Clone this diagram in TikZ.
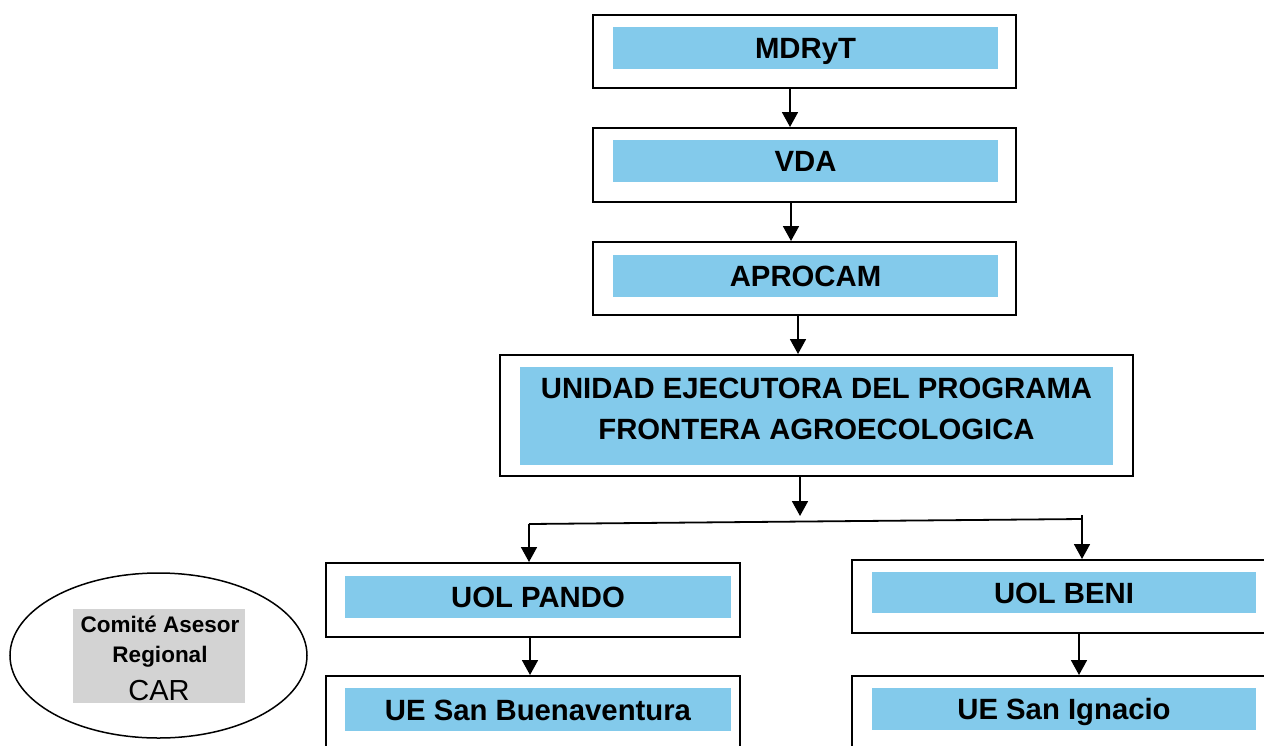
\documentclass[tikz,border=0pt]{standalone}
\usepackage{fontspec}
\setmainfont{Liberation Sans}
\usetikzlibrary{arrows.meta,shapes.geometric}
\definecolor{boxblue}{RGB}{131,202,235}
\definecolor{cargray}{RGB}{211,211,211}
\begin{document}
\begin{tikzpicture}[x=1pt,y=-1pt,
  outerbox/.style={draw=black,line width=2pt,fill=white,rectangle,inner sep=0pt},
  bluebox/.style={fill=boxblue,rectangle,inner sep=0pt,align=center,
    text height=21pt,text depth=0pt,
    font=\fontsize{29.3}{41}\selectfont\bfseries},
  bluefill/.style={fill=boxblue,rectangle,inner sep=0pt},
  bigtext/.style={inner sep=0pt,align=center,font=\fontsize{29.3}{41}\selectfont\bfseries},
  arr/.style={line width=1.8pt,-{Triangle[width=16pt,length=15pt]}},
  conn/.style={line width=1.8pt},
  cartext/.style={inner sep=0pt,font=\fontsize{22.5}{26}\selectfont\bfseries}]
\clip (0,0) rectangle (1264,745);
\fill[white] (0,0) rectangle (1264,745);
% top chain
\node[outerbox,minimum width=423pt,minimum height=73pt] (o1) at (804.5,51.5) {};
\node[bluebox,minimum width=385pt,minimum height=42pt] (mdryt) at (805.5,48) {MDRyT};
\node[outerbox,minimum width=423pt,minimum height=74pt] (o2) at (804.5,165) {};
\node[bluebox,minimum width=385pt,minimum height=42pt] (vda) at (805.5,161) {VDA};
\node[outerbox,minimum width=423pt,minimum height=73pt] (o3) at (804.5,278.5) {};
\node[bluebox,minimum width=385pt,minimum height=42pt] (aprocam) at (805.5,276) {APROCAM};
\node[outerbox,minimum width=633pt,minimum height=121pt] (o4) at (816.5,415.5) {};
\node[bluefill,minimum width=593pt,minimum height=98pt] (unidadbox) at (816.5,416) {};
\node[bigtext] (unidad) at (816.5,409) {UNIDAD EJECUTORA DEL PROGRAMA\\FRONTERA AGROECOLOGICA};
% second level
\node[outerbox,minimum width=414pt,minimum height=74pt] (o5) at (533,600) {};
\node[bluebox,minimum width=386pt,minimum height=42pt] (pando) at (538,597) {UOL PANDO};
\node[outerbox,minimum width=423pt,minimum height=73pt] (o6) at (1063.5,596.5) {};
\node[bluebox,minimum width=384pt,minimum height=41pt] (beni) at (1064,592.5) {UOL BENI};
% third level (cut off at bottom)
\node[outerbox,minimum width=414pt,minimum height=90pt] (o7) at (533,721) {};
\node[bluebox,minimum width=386pt,minimum height=43pt] (buena) at (538,709.5) {UE San Buenaventura};
\node[outerbox,minimum width=423pt,minimum height=90pt] (o8) at (1063.5,721) {};
\node[bluebox,minimum width=384pt,minimum height=42pt] (ignacio) at (1064,709) {UE San Ignacio};
% CAR
\node[draw=black,line width=1.5pt,ellipse,minimum width=297pt,minimum height=165pt,inner sep=0pt] (car) at (158.5,655.5) {};
\node[fill=cargray,rectangle,minimum width=172pt,minimum height=94pt,inner sep=0pt] (carbox) at (159,656) {};
\node[cartext] (car1) at (160,624) {Comité Asesor};
\node[cartext] (car2) at (160,657) {Regional};
\node[inner sep=0pt,font=\fontsize{29}{32}\selectfont] (car3) at (159,691) {CAR};
% connectors
\draw[arr] ([xshift=-14.5pt]o1.south) -- ([xshift=-14.5pt]o1.south |- o2.north);
\draw[arr] ([xshift=-13.5pt]o2.south) -- ([xshift=-13.5pt]o2.south |- o3.north);
\draw[arr] ([xshift=-6.5pt]o3.south) -- ([xshift=-6.5pt]o3.south |- o4.north);
\coordinate (bj) at (800,516);
\coordinate (bl) at (529,524);
\coordinate (br) at (1082,519);
\coordinate (brtop) at (1082,515);
\draw[arr] (bj |- o4.south) -- (bj);
\draw[conn] (bl) -- (br);
\draw[arr] (bl) -- (bl |- o5.north);
\draw[arr] (brtop) -- (brtop |- o6.north);
\draw[arr] ([xshift=-3pt]o5.south) -- ([xshift=-3pt]o7.north);
\draw[arr] ([xshift=15.5pt]o6.south) -- ([xshift=15.5pt]o8.north);
\end{tikzpicture}
\end{document}
